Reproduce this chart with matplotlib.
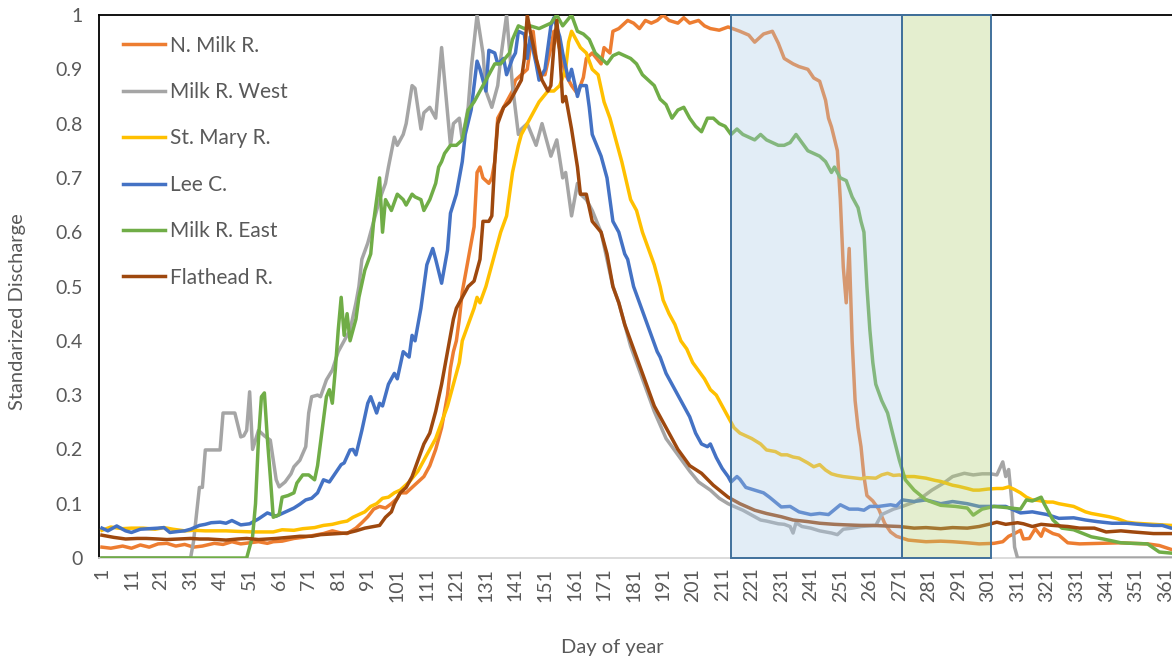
import numpy as np
import matplotlib
matplotlib.use("Agg")
import matplotlib.pyplot as plt

plt.rcParams['font.family'] = ['Lato', 'DejaVu Sans']

# values (day of year, standardized discharge)
n_milk_days = [1, 4, 8, 11, 14, 17, 20, 23, 26, 29, 32, 35, 39, 42, 45, 48, 51, 54, 57, 59, 62, 66, 69, 73, 76, 79, 82, 84, 87, 89, 91, 93, 95, 97, 99, 101, 102, 104, 106, 108, 110, 112, 114, 116, 118, 119, 120, 121, 122, 123, 125, 127, 128, 129, 130, 132, 133, 134, 135, 137, 138, 140, 141, 143, 145, 146, 147, 148, 149, 151, 153, 154, 155, 158, 160, 162, 164, 165, 167, 170, 171, 173, 174, 176, 179, 181, 183, 185, 187, 189, 191, 193, 196, 198, 200, 203, 205, 207, 210, 213, 217, 220, 222, 225, 228, 230, 232, 235, 237, 240, 242, 244, 246, 247, 248, 250, 251, 252, 253, 254, 255, 256, 257, 258, 259, 260, 262, 264, 266, 268, 270, 274, 280, 285, 289, 294, 298, 303, 306, 308, 310, 312, 313, 315, 317, 319, 320, 323, 325, 328, 332, 339, 346, 350, 355, 359, 363, 365]
n_milk = [0.02, 0.018, 0.022, 0.018, 0.024, 0.02, 0.026, 0.027, 0.022, 0.025, 0.02, 0.022, 0.027, 0.025, 0.03, 0.026, 0.028, 0.03, 0.027, 0.03, 0.031, 0.036, 0.038, 0.042, 0.045, 0.05, 0.046, 0.045, 0.055, 0.065, 0.076, 0.09, 0.095, 0.092, 0.1, 0.11, 0.12, 0.12, 0.13, 0.14, 0.15, 0.17, 0.2, 0.24, 0.3, 0.35, 0.38, 0.4, 0.44, 0.49, 0.55, 0.61, 0.71, 0.72, 0.7, 0.69, 0.7, 0.73, 0.81, 0.83, 0.84, 0.86, 0.88, 0.89, 0.9, 0.94, 0.97, 0.92, 0.89, 0.89, 0.94, 0.97, 0.96, 0.89, 0.87, 0.855, 0.885, 0.92, 0.93, 0.91, 0.94, 0.93, 0.97, 0.975, 0.99, 0.985, 0.975, 0.99, 0.985, 0.99, 1.0, 0.99, 0.985, 0.995, 0.985, 0.99, 0.98, 0.975, 0.972, 0.978, 0.97, 0.963, 0.95, 0.965, 0.97, 0.948, 0.92, 0.91, 0.905, 0.9, 0.884, 0.878, 0.843, 0.81, 0.794, 0.75, 0.66, 0.536, 0.47, 0.57, 0.4, 0.29, 0.24, 0.205, 0.15, 0.115, 0.105, 0.09, 0.064, 0.048, 0.04, 0.033, 0.03, 0.031, 0.03, 0.028, 0.026, 0.027, 0.03, 0.04, 0.045, 0.051, 0.035, 0.036, 0.054, 0.04, 0.054, 0.045, 0.042, 0.028, 0.026, 0.027, 0.028, 0.027, 0.026, 0.023, 0.016, 0.012]

west_days = [1, 31, 32, 34, 35, 36, 41, 42, 46, 48, 49, 50, 51, 52, 54, 56, 58, 60, 61, 63, 65, 66, 68, 70, 71, 72, 74, 75, 77, 79, 81, 83, 85, 87, 88, 89, 91, 92, 93, 95, 97, 98, 100, 101, 103, 104, 106, 107, 109, 110, 112, 113, 114, 116, 119, 120, 122, 123, 125, 126, 128, 130, 131, 133, 135, 136, 138, 140, 142, 143, 145, 148, 150, 153, 155, 157, 158, 160, 162, 163, 165, 167, 170, 172, 174, 176, 178, 180, 182, 184, 186, 188, 190, 192, 194, 196, 198, 200, 203, 207, 210, 213, 215, 218, 220, 224, 226, 230, 232, 234, 235, 236, 238, 241, 244, 248, 250, 252, 255, 258, 263, 265, 269, 272, 276, 279, 282, 286, 289, 293, 296, 299, 302, 304, 306, 307, 308, 309, 310, 311, 365]
west = [0.0, 0.0, 0.03, 0.13, 0.13, 0.199, 0.199, 0.267, 0.267, 0.223, 0.225, 0.235, 0.306, 0.2, 0.235, 0.225, 0.217, 0.144, 0.131, 0.14, 0.155, 0.168, 0.18, 0.205, 0.267, 0.297, 0.3, 0.297, 0.328, 0.346, 0.38, 0.4, 0.42, 0.47, 0.5, 0.55, 0.58, 0.6, 0.62, 0.66, 0.69, 0.72, 0.775, 0.76, 0.78, 0.8, 0.87, 0.865, 0.79, 0.82, 0.83, 0.82, 0.81, 0.94, 0.76, 0.8, 0.81, 0.77, 0.83, 0.9, 1.0, 0.93, 0.86, 0.83, 0.87, 0.92, 1.0, 0.87, 0.78, 0.79, 0.8, 0.76, 0.8, 0.74, 0.77, 0.7, 0.71, 0.63, 0.69, 0.67, 0.66, 0.64, 0.6, 0.55, 0.5, 0.47, 0.43, 0.39, 0.36, 0.33, 0.3, 0.27, 0.245, 0.22, 0.205, 0.19, 0.175, 0.16, 0.14, 0.125, 0.11, 0.1, 0.095, 0.088, 0.082, 0.07, 0.068, 0.063, 0.062, 0.058, 0.046, 0.065, 0.058, 0.055, 0.05, 0.046, 0.043, 0.053, 0.055, 0.058, 0.06, 0.08, 0.09, 0.095, 0.103, 0.113, 0.125, 0.138, 0.15, 0.156, 0.153, 0.155, 0.155, 0.153, 0.177, 0.15, 0.163, 0.107, 0.02, 0.0, 0.0]

mary_days = [1, 4, 8, 11, 15, 19, 22, 25, 29, 32, 36, 39, 43, 47, 52, 56, 59, 62, 66, 69, 73, 76, 79, 82, 84, 86, 88, 90, 92, 94, 96, 98, 100, 102, 105, 108, 110, 112, 114, 116, 118, 119, 120, 122, 123, 125, 127, 128, 129, 131, 134, 136, 138, 140, 142, 143, 145, 147, 149, 152, 154, 156, 158, 159, 160, 161, 163, 165, 167, 169, 171, 173, 175, 177, 180, 182, 184, 186, 188, 190, 191, 193, 195, 197, 199, 201, 203, 205, 207, 209, 211, 213, 215, 217, 219, 221, 224, 226, 229, 231, 233, 235, 237, 240, 242, 244, 246, 248, 250, 252, 255, 258, 260, 263, 265, 267, 269, 271, 273, 276, 280, 283, 285, 289, 291, 294, 296, 298, 301, 304, 306, 308, 310, 312, 314, 316, 318, 321, 323, 325, 328, 330, 332, 334, 336, 339, 342, 345, 348, 351, 354, 357, 360, 363, 365]
mary = [0.051, 0.057, 0.054, 0.055, 0.055, 0.053, 0.056, 0.053, 0.05, 0.051, 0.05, 0.05, 0.05, 0.049, 0.048, 0.048, 0.048, 0.052, 0.051, 0.054, 0.056, 0.06, 0.062, 0.066, 0.068, 0.075, 0.08, 0.085, 0.095, 0.1, 0.11, 0.112, 0.12, 0.125, 0.14, 0.16, 0.18, 0.2, 0.22, 0.25, 0.28, 0.3, 0.32, 0.36, 0.4, 0.43, 0.46, 0.48, 0.47, 0.5, 0.56, 0.6, 0.63, 0.71, 0.76, 0.78, 0.8, 0.82, 0.84, 0.86, 0.86, 0.87, 0.9, 0.95, 0.97, 0.96, 0.94, 0.93, 0.9, 0.89, 0.84, 0.81, 0.77, 0.73, 0.66, 0.64, 0.6, 0.57, 0.54, 0.5, 0.475, 0.45, 0.43, 0.4, 0.385, 0.36, 0.345, 0.33, 0.31, 0.3, 0.28, 0.26, 0.24, 0.23, 0.225, 0.22, 0.21, 0.199, 0.196, 0.19, 0.19, 0.186, 0.184, 0.175, 0.168, 0.172, 0.162, 0.155, 0.152, 0.15, 0.148, 0.146, 0.148, 0.147, 0.153, 0.156, 0.152, 0.153, 0.15, 0.15, 0.147, 0.143, 0.141, 0.134, 0.132, 0.128, 0.125, 0.125, 0.127, 0.128, 0.128, 0.131, 0.126, 0.12, 0.112, 0.107, 0.106, 0.103, 0.103, 0.1, 0.097, 0.095, 0.09, 0.085, 0.082, 0.079, 0.076, 0.072, 0.066, 0.064, 0.063, 0.062, 0.061, 0.06, 0.06]

lee_days = [1, 3, 6, 9, 11, 14, 17, 20, 22, 24, 27, 29, 31, 34, 36, 38, 41, 43, 45, 48, 51, 54, 57, 60, 62, 64, 66, 68, 70, 72, 74, 76, 78, 80, 82, 83, 85, 86, 87, 89, 91, 92, 94, 95, 96, 98, 100, 101, 103, 105, 106, 107, 109, 111, 113, 114, 116, 118, 119, 121, 123, 124, 126, 127, 128, 129, 131, 132, 134, 135, 137, 138, 140, 141, 142, 144, 145, 146, 148, 149, 151, 152, 153, 154, 156, 157, 159, 160, 162, 163, 165, 166, 167, 170, 172, 174, 176, 178, 179, 181, 183, 185, 187, 189, 190, 192, 194, 196, 198, 200, 202, 204, 206, 207, 209, 211, 213, 214, 216, 217, 219, 222, 225, 227, 231, 234, 237, 241, 244, 247, 251, 254, 257, 259, 261, 264, 268, 270, 272, 276, 280, 285, 289, 294, 298, 302, 307, 312, 316, 321, 325, 330, 334, 338, 343, 348, 352, 357, 360, 363, 365]
lee = [0.055, 0.05, 0.059, 0.05, 0.047, 0.053, 0.054, 0.055, 0.056, 0.047, 0.049, 0.05, 0.053, 0.06, 0.062, 0.065, 0.066, 0.064, 0.069, 0.061, 0.063, 0.072, 0.083, 0.077, 0.082, 0.087, 0.092, 0.099, 0.107, 0.11, 0.12, 0.144, 0.14, 0.156, 0.172, 0.175, 0.199, 0.2, 0.19, 0.235, 0.285, 0.297, 0.267, 0.285, 0.28, 0.32, 0.34, 0.33, 0.38, 0.37, 0.41, 0.4, 0.46, 0.54, 0.57, 0.55, 0.506, 0.567, 0.635, 0.67, 0.73, 0.78, 0.825, 0.87, 0.915, 0.9, 0.86, 0.935, 0.93, 0.91, 0.92, 0.89, 0.92, 0.93, 0.97, 0.965, 0.92, 0.96, 0.91, 0.88, 0.9, 0.94, 0.98, 0.995, 0.96, 0.93, 0.88, 0.9, 0.85, 0.87, 0.87, 0.83, 0.78, 0.74, 0.7, 0.62, 0.6, 0.56, 0.55, 0.5, 0.47, 0.44, 0.41, 0.38, 0.37, 0.34, 0.32, 0.3, 0.28, 0.26, 0.23, 0.21, 0.205, 0.21, 0.185, 0.165, 0.15, 0.14, 0.15, 0.145, 0.13, 0.125, 0.12, 0.112, 0.094, 0.095, 0.085, 0.08, 0.082, 0.08, 0.098, 0.09, 0.09, 0.088, 0.095, 0.095, 0.098, 0.096, 0.107, 0.104, 0.107, 0.1, 0.104, 0.1, 0.095, 0.095, 0.095, 0.083, 0.085, 0.08, 0.073, 0.074, 0.07, 0.067, 0.064, 0.064, 0.062, 0.06, 0.06, 0.055, 0.055]

east_days = [1, 50, 52, 53, 54, 55, 56, 57, 58, 59, 61, 62, 64, 66, 67, 69, 71, 73, 74, 76, 77, 78, 79, 80, 81, 82, 83, 84, 85, 87, 88, 90, 92, 93, 95, 96, 97, 99, 101, 103, 104, 106, 107, 109, 110, 112, 114, 115, 116, 117, 119, 121, 123, 125, 127, 130, 132, 134, 136, 139, 140, 142, 144, 146, 149, 151, 153, 155, 157, 160, 162, 164, 166, 168, 170, 172, 174, 176, 178, 180, 182, 184, 186, 188, 190, 192, 194, 196, 198, 200, 202, 204, 206, 208, 210, 212, 214, 216, 218, 220, 222, 224, 226, 228, 230, 232, 234, 236, 238, 240, 242, 244, 246, 248, 249, 251, 253, 255, 257, 258, 259, 260, 261, 262, 263, 265, 267, 269, 271, 273, 276, 280, 285, 290, 294, 296, 299, 303, 307, 312, 314, 316, 319, 320, 321, 323, 326, 330, 336, 340, 346, 350, 355, 359, 363, 365]
east = [0.0, 0.0, 0.04, 0.1, 0.22, 0.297, 0.304, 0.22, 0.15, 0.075, 0.08, 0.112, 0.115, 0.12, 0.138, 0.153, 0.153, 0.144, 0.17, 0.254, 0.297, 0.31, 0.285, 0.346, 0.42, 0.48, 0.41, 0.45, 0.4, 0.44, 0.48, 0.53, 0.56, 0.62, 0.7, 0.6, 0.66, 0.64, 0.67, 0.66, 0.65, 0.67, 0.665, 0.66, 0.64, 0.66, 0.69, 0.72, 0.73, 0.745, 0.76, 0.76, 0.77, 0.825, 0.84, 0.87, 0.89, 0.91, 0.91, 0.93, 0.955, 0.98, 0.975, 0.98, 0.975, 0.98, 0.985, 1.0, 0.98, 1.0, 0.97, 0.965, 0.955, 0.93, 0.92, 0.91, 0.925, 0.93, 0.925, 0.92, 0.91, 0.89, 0.88, 0.87, 0.845, 0.835, 0.81, 0.825, 0.83, 0.81, 0.795, 0.785, 0.81, 0.81, 0.8, 0.795, 0.78, 0.79, 0.78, 0.775, 0.77, 0.78, 0.77, 0.765, 0.76, 0.76, 0.765, 0.78, 0.765, 0.75, 0.745, 0.74, 0.73, 0.71, 0.72, 0.7, 0.695, 0.665, 0.645, 0.62, 0.6, 0.5, 0.42, 0.36, 0.32, 0.29, 0.267, 0.223, 0.18, 0.144, 0.125, 0.107, 0.097, 0.095, 0.092, 0.079, 0.09, 0.095, 0.093, 0.09, 0.107, 0.105, 0.112, 0.1, 0.09, 0.07, 0.055, 0.052, 0.039, 0.035, 0.028, 0.027, 0.026, 0.011, 0.009, 0.008]

flat_days = [1, 3, 5, 9, 13, 16, 20, 23, 27, 31, 34, 37, 40, 43, 47, 50, 54, 57, 60, 64, 68, 72, 75, 78, 81, 84, 87, 90, 93, 95, 97, 99, 100, 102, 104, 106, 108, 110, 112, 114, 116, 118, 120, 121, 123, 125, 127, 129, 130, 132, 133, 134, 135, 137, 139, 140, 142, 143, 144, 145, 146, 148, 149, 150, 152, 153, 154, 155, 156, 157, 158, 160, 162, 163, 165, 167, 170, 172, 174, 176, 178, 180, 182, 184, 186, 188, 190, 192, 194, 196, 198, 200, 204, 208, 213, 217, 222, 226, 231, 235, 240, 244, 249, 253, 258, 262, 267, 271, 276, 280, 285, 289, 294, 298, 302, 304, 307, 311, 313, 316, 319, 323, 328, 332, 337, 341, 346, 350, 357, 365]
flat = [0.042, 0.04, 0.038, 0.035, 0.036, 0.036, 0.035, 0.034, 0.035, 0.036, 0.035, 0.035, 0.034, 0.033, 0.035, 0.036, 0.034, 0.035, 0.036, 0.038, 0.04, 0.04, 0.043, 0.044, 0.045, 0.046, 0.05, 0.055, 0.058, 0.06, 0.075, 0.085, 0.1, 0.12, 0.13, 0.15, 0.18, 0.21, 0.23, 0.27, 0.32, 0.38, 0.44, 0.46, 0.48, 0.5, 0.51, 0.55, 0.62, 0.62, 0.63, 0.73, 0.8, 0.83, 0.84, 0.85, 0.87, 0.88, 0.92, 1.0, 0.97, 0.92, 0.9, 0.88, 0.86, 0.87, 0.94, 0.99, 0.93, 0.84, 0.85, 0.79, 0.72, 0.67, 0.67, 0.62, 0.6, 0.56, 0.5, 0.47, 0.43, 0.4, 0.37, 0.34, 0.31, 0.28, 0.26, 0.24, 0.22, 0.2, 0.185, 0.17, 0.156, 0.134, 0.112, 0.1, 0.088, 0.082, 0.076, 0.07, 0.067, 0.064, 0.062, 0.061, 0.06, 0.06, 0.059, 0.058, 0.055, 0.056, 0.054, 0.056, 0.055, 0.058, 0.063, 0.066, 0.062, 0.065, 0.063, 0.058, 0.062, 0.06, 0.058, 0.055, 0.055, 0.048, 0.05, 0.048, 0.045, 0.045]

names = ['N. Milk R.', 'Milk R. West', 'St. Mary R.', 'Lee C.', 'Milk R. East', 'Flathead R.']
colors = ['#ED7D31', '#A5A5A5', '#FFC000', '#4472C4', '#70AD47', '#9E480E']
series = [(n_milk_days, n_milk), (west_days, west), (mary_days, mary),
          (lee_days, lee), (east_days, east), (flat_days, flat)]

# shaded periods (day of year)
blue_span = (214, 272)
green_span = (272, 302)

W, H = 1172, 661
fig = plt.figure(figsize=(W / 100, H / 100), dpi=100)
ax = fig.add_axes([99 / W, 1 - 558 / H, 1 - 99 / W, (558 - 15) / H])

for (d, v), name, c in zip(series, names, colors):
    ax.plot(d, v, color=c, lw=2.5, label=name, solid_joinstyle='round', zorder=3)

ax.axvspan(*blue_span, ymin=0, ymax=1, facecolor=(172 / 255, 204 / 255, 232 / 255, 0.35),
           edgecolor='#41719C', lw=1.4, zorder=5, clip_on=False)
ax.axvspan(*green_span, ymin=0, ymax=1, facecolor=(178 / 255, 209 / 255, 118 / 255, 0.35),
           edgecolor='#41719C', lw=1.4, zorder=5, clip_on=False)

ax.set_xlim(0, 363.3)
ax.set_ylim(0, 1)

xt = np.arange(1, 366, 10)
ax.set_xticks(xt)
ax.set_xticklabels([str(t) for t in xt], rotation=90, va='top', ha='center')
yt = np.round(np.arange(0, 1.01, 0.1), 1)
ax.set_yticks(yt)
ax.set_yticklabels(['0', '0.1', '0.2', '0.3', '0.4', '0.5', '0.6', '0.7', '0.8', '0.9', '1'])
ax.tick_params(axis='both', length=0, labelsize=14, labelcolor='#595959')
ax.tick_params(axis='y', pad=12)
ax.tick_params(axis='x', pad=7)

ax.spines['right'].set_visible(False)
ax.spines['top'].set_color('black')
ax.spines['left'].set_color('black')
ax.spines['top'].set_linewidth(1.3)
ax.spines['left'].set_linewidth(1.3)
ax.spines['bottom'].set_color('#D9D9D9')
ax.spines['bottom'].set_linewidth(1.3)

fig.text(18 / W, 1 - 312 / H, 'Standarized Discharge', rotation=90, ha='center', va='center',
         fontsize=14.5, color='#595959')
fig.text(612 / W, 1 - 648 / H, 'Day of year', ha='center', va='center',
         fontsize=14.5, color='#595959')

leg = ax.legend(loc='upper left', bbox_to_anchor=(123 / W, 1 - 35.5 / H),
                bbox_transform=fig.transFigure, frameon=False, fontsize=15,
                borderpad=0, borderaxespad=0, handlelength=2.02, handletextpad=0.24,
                labelspacing=1.27)
for t in leg.get_texts():
    t.set_color('#595959')

fig.savefig('out.png', dpi=100)
